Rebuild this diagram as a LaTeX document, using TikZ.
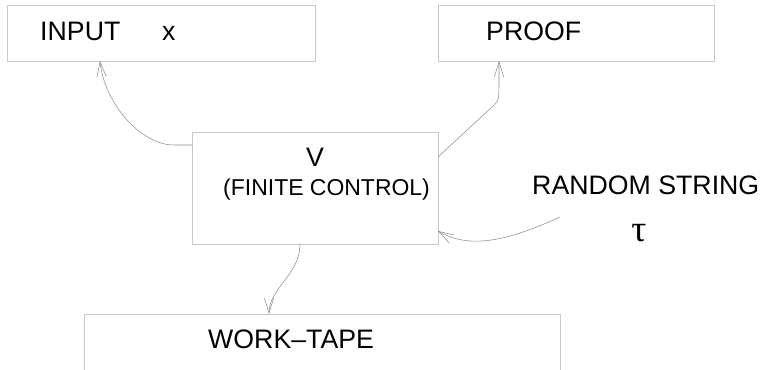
\documentclass[tikz,border=0pt]{standalone}
\usepackage{fontspec}
\setmainfont{Liberation Sans}
\newfontfamily\greekfont{Liberation Serif}
\usetikzlibrary{arrows.meta,calc}
\definecolor{boxgray}{HTML}{C8C8C8}
\definecolor{wiregray}{HTML}{8C8C8C}

\begin{document}
\begin{tikzpicture}
    [x=0.3mm, y=0.3mm,
     >={Straight Barb[length=4.5mm,width=2.8mm]},  % thin open tips
     box/.style={shape=rectangle, draw=boxgray, line width=0.7pt, inner sep=0pt, outer sep=0pt},
     txt/.style={inner sep=0pt, font=\fontsize{22.8}{26}\selectfont},
     smalltxt/.style={inner sep=0pt, font=\fontsize{19.6}{23}\selectfont},
     wire/.style={draw=wiregray, line width=0.45pt, ->},
    ]
\useasboundingbox (0,0) rectangle (761,370);
\clip (0,0) rectangle (761,370);

\node[box, minimum width=92.4mm, minimum height=16.8mm] (inbox) at (161,337) {};
\node[box, minimum width=82.8mm, minimum height=16.8mm] (proofbox) at (576,337) {};
\node[box, minimum width=73.8mm, minimum height=33.6mm] (vbox) at (315,182) {};
\node[box, minimum width=142.8mm, minimum height=22.8mm] (tapebox) at (322,18) {};

\node[txt, anchor=base west] (inputlbl) at (40,329) {INPUT};
\node[txt, anchor=base west] (xlbl) at (162,329) {x};
\node[txt, anchor=base west] (prooflbl) at (486,329) {PROOF};
\node[txt, anchor=base] (vlbl) at (315,203) {V};
\node[smalltxt, anchor=base west] (fclbl) at (223,174) {(FINITE CONTROL)};
\node[txt, anchor=base west] (tapelbl) at (208,21) {WORK--TAPE};
\node[txt, anchor=base west] (rndlbl) at (532,175) {RANDOM STRING};
\node[inner sep=0pt, font=\greekfont\fontsize{32}{34}\selectfont] (taulbl) at (639,137) {τ};

\coordinate (rnd) at (560,153);

\draw[wire] ($(vbox.north west)+(0,-13)$) -- ++(-18,0)
    .. controls (140,225) and (104,268) .. ($(inbox.south west)+(93,0)$);
\draw[wire] ($(vbox.north east)+(0,-25)$) -- (493,264)
    .. controls (499,270) .. (499,288) -- ($(proofbox.south west)+(61,0)$);
\draw[wire] ($(vbox.south west)+(108,0)$)
    .. controls (300,95) and (269,82) .. ($(tapebox.north west)+(185,0)$);
\draw[wire] (rnd) .. controls (510,130) and (470,120) .. ($(vbox.south east)+(0,13)$);

\end{tikzpicture}
\end{document}
